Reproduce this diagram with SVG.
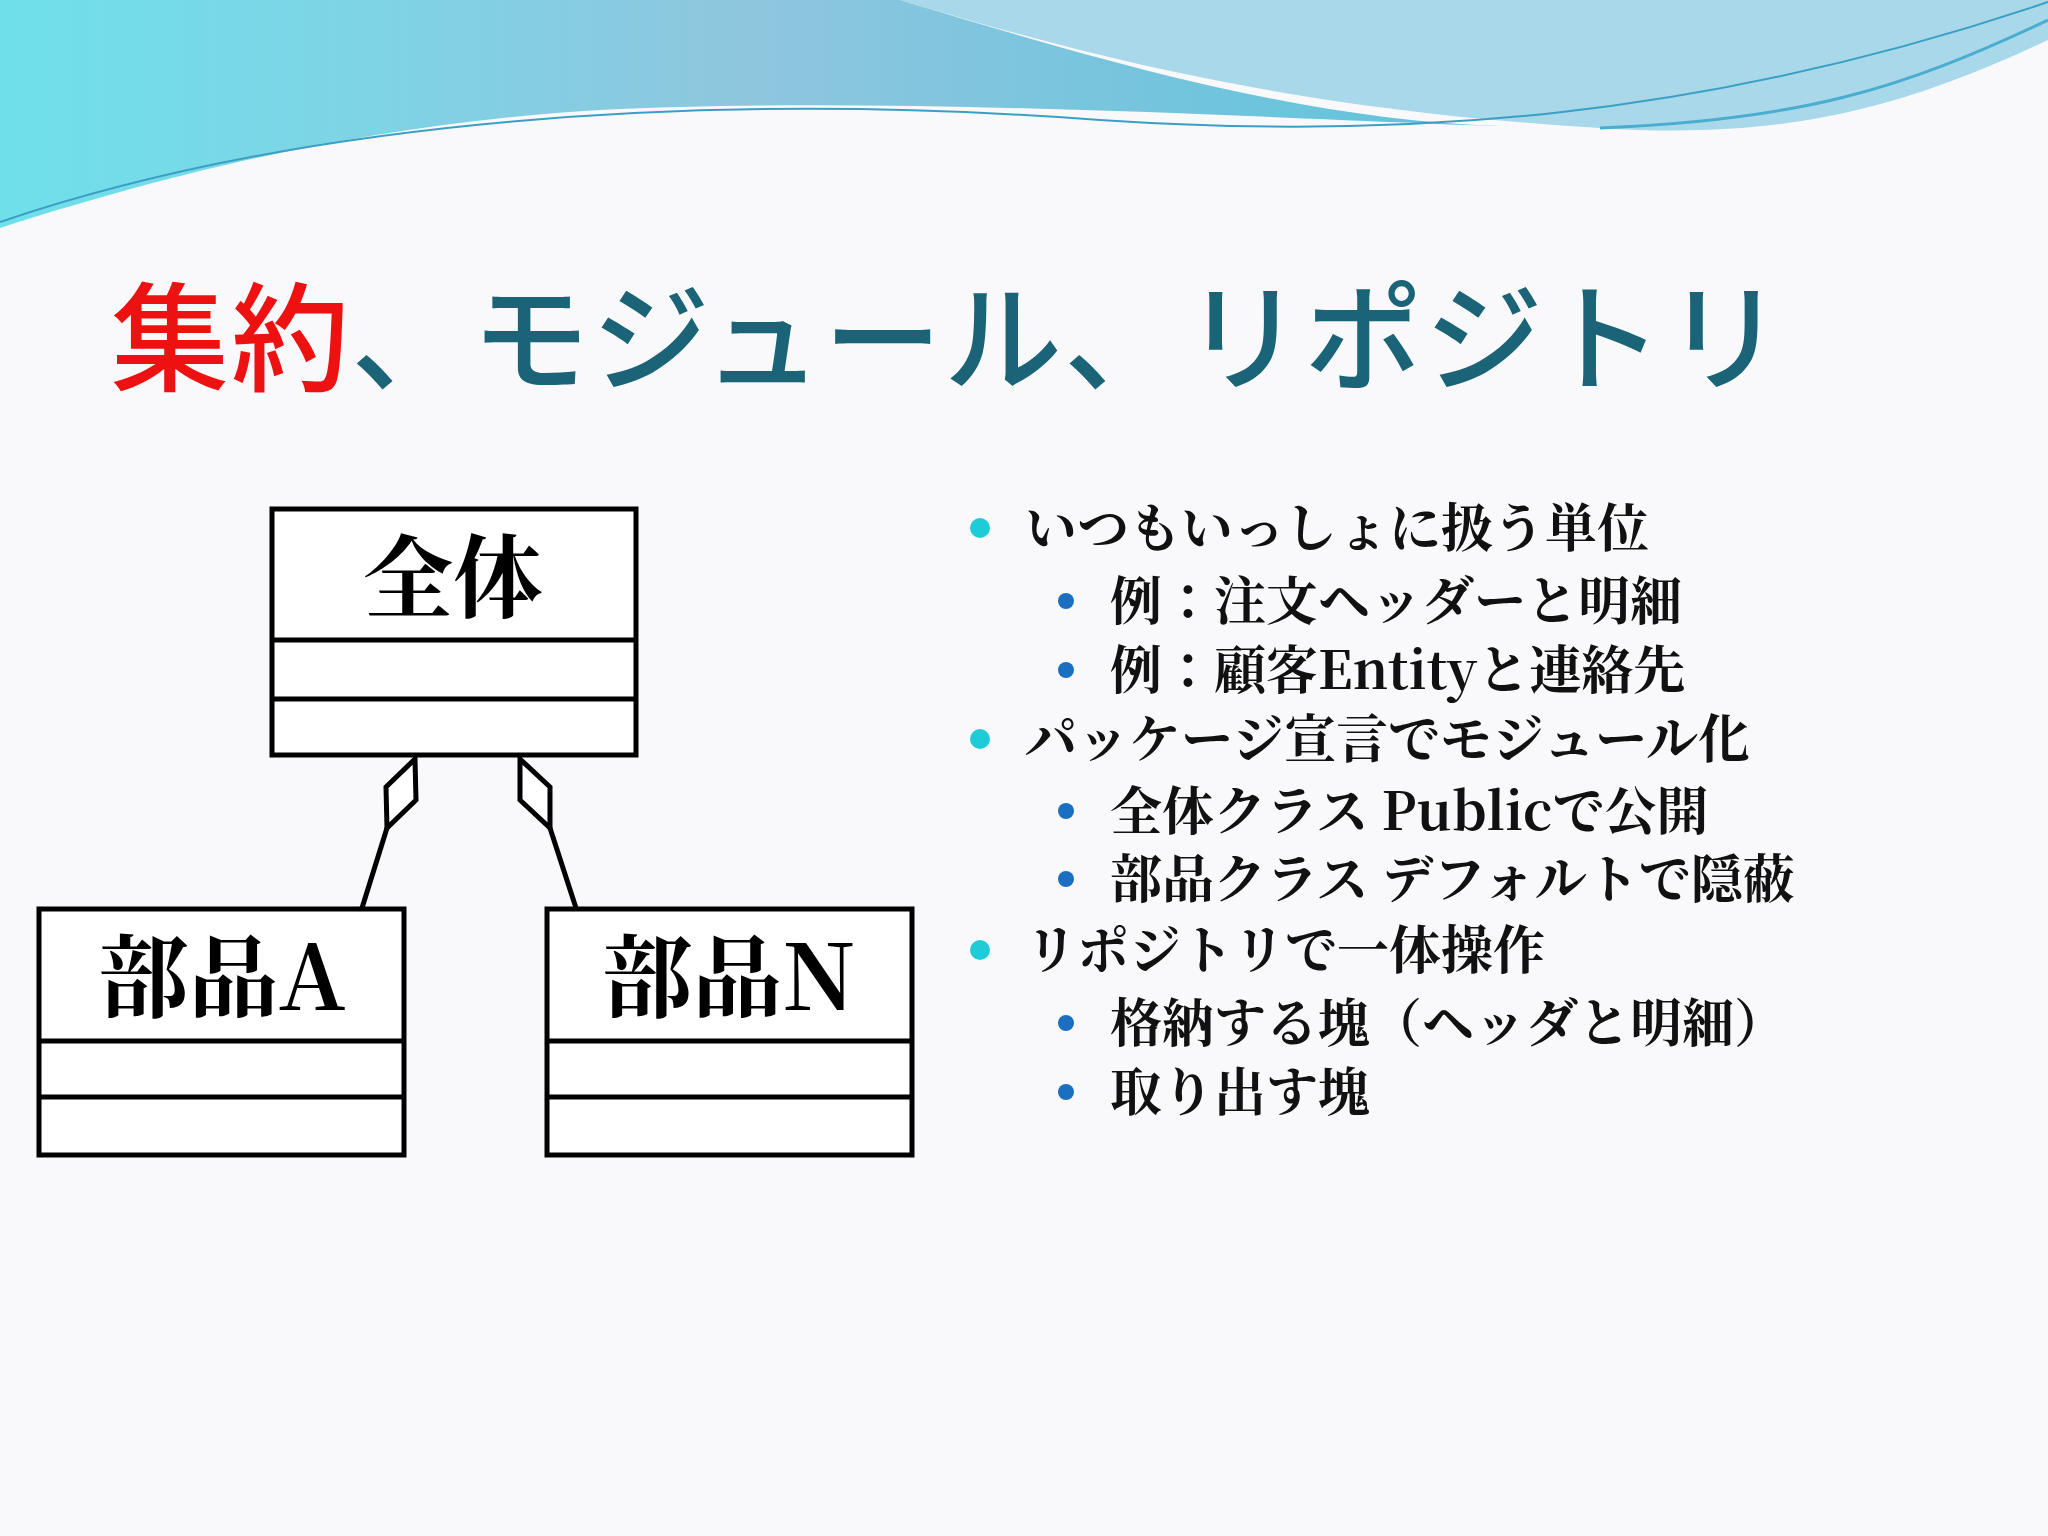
<svg xmlns="http://www.w3.org/2000/svg" width="2048" height="1536" viewBox="0 0 2048 1536">
<defs>
<linearGradient id="wave" x1="0" y1="0" x2="1" y2="0">
<stop offset="0" stop-color="#6fe0ea"/><stop offset="0.5" stop-color="#8ec6de"/><stop offset="1" stop-color="#5fc3dc"/>
</linearGradient>
<style>
.box{fill:#fff;stroke:#000;stroke-width:5}
.ln{stroke:#000;stroke-width:5;fill:none}
.bt{font-family:"Noto Serif CJK JP","Noto Sans CJK JP",serif;font-weight:bold;font-size:90px;text-anchor:middle}
.b1{font-family:"Noto Serif CJK JP","Noto Sans CJK JP",sans-serif;font-weight:bold;font-size:52px;fill:#111}
</style>
</defs>
<rect width="2048" height="1536" fill="#f9f9fb"/>
<path d="M0 0H2048V40C1900 110 1780 140 1600 128C1300 110 1100 60 900 0Z" fill="#a9d8ea"/>
<path d="M0 0H900C1100 60 1300 120 1500 126C1300 120 900 95 600 110C350 125 150 180 0 228Z" fill="url(#wave)"/>
<path d="M2048 20C1900 90 1800 120 1600 128" stroke="#4aaccf" stroke-width="3" fill="none"/>
<path d="M0 222C300 120 700 90 1100 120C1400 140 1700 120 2048 2" stroke="#3a9fc4" stroke-width="2" fill="none"/>
<text x="111" y="382" font-family="Noto Sans CJK JP,sans-serif" font-size="118" font-weight="500" textLength="1672"><tspan fill="#ee1111">集約</tspan><tspan fill="#1b6477">、モジュール、リポジトリ</tspan></text>
<g id="zentai"><rect class="box" x="272" y="509" width="364" height="246"/><line class="ln" x1="272" y1="640" x2="636" y2="640"/><line class="ln" x1="272" y1="699" x2="636" y2="699"/><text class="bt" x="453" y="610">全体</text></g>
<g id="buhinA"><rect class="box" x="39" y="909" width="365" height="246"/><line class="ln" x1="39" y1="1041" x2="404" y2="1041"/><line class="ln" x1="39" y1="1097" x2="404" y2="1097"/><text class="bt" x="222" y="1010">部品A</text></g>
<g id="buhinN"><rect class="box" x="547" y="909" width="365" height="246"/><line class="ln" x1="547" y1="1041" x2="912" y2="1041"/><line class="ln" x1="547" y1="1097" x2="912" y2="1097"/><text class="bt" x="729" y="1010">部品N</text></g>
<g id="connectors">
<polygon class="ln" style="fill:#fff" points="415,759 416,800 387,828 386,787"/>
<line class="ln" x1="387" y1="828" x2="362" y2="908"/>
<polygon class="ln" style="fill:#fff" points="520,759 550,787 550,828 520,800"/>
<line class="ln" x1="550" y1="828" x2="576" y2="908"/>
</g>
<g id="bullets">
<circle cx="980" cy="528" r="10" fill="#1ecbd6"/><circle cx="980" cy="739" r="10" fill="#1ecbd6"/><circle cx="980" cy="950" r="10" fill="#1ecbd6"/>
<circle cx="1066" cy="601" r="8" fill="#1a6fc0"/><circle cx="1066" cy="670" r="8" fill="#1a6fc0"/><circle cx="1066" cy="811" r="8" fill="#1a6fc0"/><circle cx="1066" cy="879" r="8" fill="#1a6fc0"/><circle cx="1066" cy="1023" r="8" fill="#1a6fc0"/><circle cx="1066" cy="1092" r="8" fill="#1a6fc0"/>
<text class="b1" x="1025" y="547">いつもいっしょに扱う単位</text>
<text class="b1" x="1110" y="620">例：注文ヘッダーと明細</text>
<text class="b1" x="1110" y="689">例：顧客Entityと連絡先</text>
<text class="b1" x="1025" y="758">パッケージ宣言でモジュール化</text>
<text class="b1" x="1110" y="830">全体クラス Publicで公開</text>
<text class="b1" x="1110" y="898">部品クラス デフォルトで隠蔽</text>
<text class="b1" x="1025" y="969">リポジトリで一体操作</text>
<text class="b1" x="1110" y="1042">格納する塊（ヘッダと明細）</text>
<text class="b1" x="1110" y="1111">取り出す塊</text>
</g>
</svg>
